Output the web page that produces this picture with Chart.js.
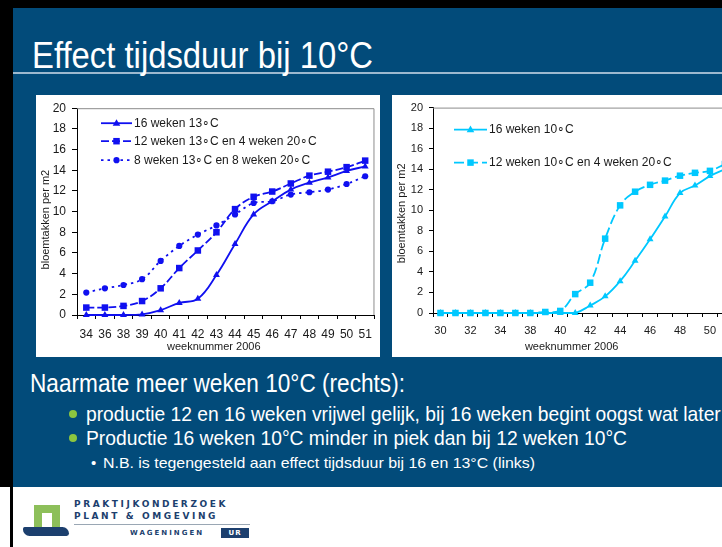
<!DOCTYPE html>
<html lang="nl">
<head>
<meta charset="UTF-8">
<title>Effect tijdsduur bij 10°C</title>
<script src="https://cdn.jsdelivr.net/npm/chart.js"></script>
<style>
  body { margin: 0; width: 722px; height: 547px; overflow: hidden; position: relative; background: #fff;
         font-family: 'Liberation Sans', Arial, sans-serif; }
  .abs { position: absolute; }
  #blackTop { left: 0; top: 0; width: 722px; height: 8px; background: #000; }
  #blackLeft { left: 0; top: 0; width: 13px; height: 487px; background: #000; }
  #blackLine { left: 10px; top: 487px; width: 3px; height: 60px; background: #000; }
  #slide { left: 13px; top: 8px; width: 709px; height: 479px; background: #024b7a; }
  #rule { left: 13px; top: 72px; width: 709px; height: 2px; background: #9db9cf; }
  .txt { color: #fff; white-space: nowrap; line-height: 1; transform-origin: 0 0; }
  #title { left: 32px; top: 38px; font-size: 36px; }
  #head { left: 30px; top: 370px; font-size: 26px; }
  .b1 { left: 86px; font-size: 21px; }
  .dot { width: 8px; height: 8px; border-radius: 50%; background: #8cc63f; }
  #sub { left: 103px; top: 455px; font-size: 15px; }
  .box { background: #fff; }
  canvas { position: absolute; }
  .logo { font-family: 'DejaVu Sans', sans-serif; font-weight: bold; color: #1c3f6e; white-space: nowrap; line-height: 1; }
</style>
</head>
<body>
<div class="abs" id="slide"></div>
<div class="abs" id="blackTop"></div>
<div class="abs" id="blackLeft"></div>
<div class="abs" id="blackLine"></div>
<div class="abs" id="rule"></div>
<div class="abs txt" id="title" data-w="341">Effect tijdsduur bij 10°C</div>

<div class="abs box" style="left:36px; top:95px; width:344px; height:262px;"></div>
<div class="abs box" style="left:392px; top:95px; width:330px; height:262px;"></div>
<canvas id="leftChart" width="344" height="262" style="left:36px; top:95px;"></canvas>
<canvas id="rightChart" width="345" height="262" style="left:392px; top:95px;"></canvas>

<div class="abs txt" id="head" data-w="375">Naarmate meer weken 10°C (rechts):</div>
<div class="abs dot" style="left:69px; top:410px;"></div>
<div class="abs txt b1" id="bul1" style="top:403px;">productie 12 en 16 weken vrijwel gelijk, bij 16 weken begint oogst wat later</div>
<div class="abs dot" style="left:69px; top:434px;"></div>
<div class="abs txt b1" id="bul2" data-w="541" style="top:427px;">Productie 16 weken 10°C minder in piek dan bij 12 weken 10°C</div>
<div class="abs txt" style="left:91px; top:455px; font-size:15px;">•</div>
<div class="abs txt" id="sub" data-w="432">N.B. is tegengesteld aan effect tijdsduur bij 16 en 13°C (links)</div>

<!-- logo -->
<div class="abs" style="left:34px; top:505px; width:26px; height:24px; background:#8dbf5a;"></div>
<div class="abs" style="left:42px; top:513px; width:10px; height:16px; background:#fff;"></div>
<div class="abs" style="left:23px; top:527px; width:46px; height:9px; background:#1c3f6e; border-radius: 2px 8px 3px 8px;"></div>
<div class="abs logo" style="left:74px; top:500px; font-size:9px; letter-spacing:2.6px;">PRAKTIJKONDERZOEK</div>
<div class="abs logo" style="left:74px; top:512px; font-size:9px; letter-spacing:2.6px;">PLANT &amp; OMGEVING</div>
<div class="abs" style="left:74px; top:524px; width:176px; height:1px; background:#9aa7b4;"></div>
<div class="abs logo" style="left:130px; top:530px; font-size:7px; letter-spacing:2px;">WAGENINGEN</div>
<div class="abs logo" style="left:221px; top:528px; width:28px; height:10px; background:#1c3f6e; color:#fff; font-size:7px; letter-spacing:1px; text-align:center; line-height:10px;">UR</div>

<script>
// condensed look of the slide font: squeeze each line to its width in the slide
document.querySelectorAll('.txt[data-w]').forEach(el => {
    const k = el.dataset.w / el.getBoundingClientRect().width;
    el.style.transform = 'scaleX(' + k + ')';
    if (el.id === 'bul2') document.getElementById('bul1').style.transform = 'scaleX(' + k + ')';
});

// ---- data: links (13 graden) ----
const leftWeeks = ['34', '36', '38', '39', '40', '41', '42', '43', '44', '45', '46', '47', '48', '49', '50', '51'];
const left16w13 = [0, 0, 0, 0.06, 0.47, 1.17, 1.57, 3.87, 6.87, 9.73, 11.0, 12.13, 12.8, 13.3, 13.93, 14.37];
const left12w13 = [0.72, 0.72, 0.88, 1.35, 2.58, 4.54, 6.24, 8.0, 10.24, 11.43, 11.94, 12.72, 13.48, 13.86, 14.3, 14.93];
const left8w13 = [2.17, 2.58, 2.9, 3.46, 5.23, 6.68, 7.78, 8.66, 9.73, 10.83, 11.0, 11.65, 11.87, 12.13, 12.67, 13.42];
const leftLabels = ['16 weken 13∘C', '12 weken 13∘C en 4 weken 20∘C', '8 weken 13∘C en 8 weken 20∘C'];

// ---- data: rechts (10 graden) ----
const rightWeeks = ['30', '31', '32', '33', '34', '36', '38', '39', '40', '41', '42', '43', '44', '45', '46', '47', '48', '49', '50', '51'];
const right16w10 = [0, 0, 0, 0, 0, 0, 0, 0, 0, 0, 0.73, 1.62, 3.1, 5.08, 7.17, 9.4, 11.68, 12.41, 13.33, 14.0];
const right12w10 = [0, 0, 0, 0, 0, 0, 0, 0.1, 0.2, 1.84, 2.95, 7.24, 10.48, 11.81, 12.48, 12.89, 13.37, 13.65, 13.84, 14.5];
const rightLabels = ['16 weken 10∘C', '12 weken 10∘C en 4 weken 20∘C'];

const yTicks = { min: 0, max: 20, step: 2 };
const xTitle = 'weeknummer 2006';
const yTitle = 'bloemtakken per m2';

const FONT = "'Liberation Sans', Arial, sans-serif";
const BLUE = '#1010f0';
const CYAN = '#00c8ff';

function marker(ctx, style, r, x, y) {
    ctx.beginPath();
    if (style === 'triangle') {
        ctx.moveTo(x, y - r);
        ctx.lineTo(x + r * 0.95, y + r * 0.65);
        ctx.lineTo(x - r * 0.95, y + r * 0.65);
        ctx.closePath();
    } else if (style === 'rect') {
        const s = r * Math.SQRT1_2;
        ctx.rect(x - s, y - s, 2 * s, 2 * s);
    } else {
        ctx.arc(x, y, r, 0, Math.PI * 2);
    }
    ctx.fill();
}

// plot frame (top/right), legend inside plot, axis titles
const decor = {
    id: 'decor',
    afterDraw(chart, args, opts) {
        const ctx = chart.ctx, a = chart.chartArea;
        ctx.save();
        ctx.strokeStyle = '#8c8c8c';
        ctx.lineWidth = 1;
        ctx.beginPath();
        ctx.moveTo(a.left, a.top + 0.5);
        ctx.lineTo(a.right - 0.5, a.top + 0.5);
        ctx.lineTo(a.right - 0.5, a.bottom);
        ctx.stroke();

        ctx.font = opts.legendSize + 'px ' + FONT;
        ctx.textBaseline = 'middle';
        chart.data.datasets.forEach((ds, i) => {
            const y = a.top + opts.rows[i];
            const x0 = a.left + opts.lineFrom, x1 = a.left + opts.lineTo;
            ctx.strokeStyle = ds.borderColor;
            ctx.lineWidth = ds.borderWidth;
            ctx.setLineDash(ds.borderDash || []);
            ctx.beginPath();
            ctx.moveTo(x0, y);
            ctx.lineTo(x1, y);
            ctx.stroke();
            ctx.setLineDash([]);
            ctx.fillStyle = ds.borderColor;
            marker(ctx, ds.pointStyle, ds.pointRadius, (x0 + x1) / 2, y);
            ctx.fillStyle = '#1a1a1a';
            ctx.fillText(ds.label, x1 + 2, y + 0.5);
        });

        ctx.font = opts.titleSize + 'px ' + FONT;
        ctx.fillStyle = '#1a1a1a';
        ctx.textAlign = 'center';
        ctx.fillText(xTitle, (a.left + a.right) / 2 + opts.xTitleShift, opts.xTitleY);
        ctx.translate(opts.yTitleX, (a.top + a.bottom) / 2 + opts.yTitleShift);
        ctx.rotate(-Math.PI / 2);
        ctx.fillText(yTitle, 0, 0);
        ctx.restore();
    }
};

function makeChart(id, labels, sets, cfg) {
    return new Chart(document.getElementById(id), {
        type: 'line',
        data: { labels: labels, datasets: sets },
        plugins: [decor],
        options: {
            responsive: false,
            animation: false,
            layout: { padding: cfg.padding },
            plugins: { legend: { display: false }, tooltip: { enabled: false }, decor: cfg.decor },
            scales: {
                x: {
                    offset: true,
                    grid: { offset: true, drawOnChartArea: false, color: '#000', tickLength: 4 },
                    border: { color: '#000', width: 1 },
                    ticks: {
                        autoSkip: false, maxRotation: 0, padding: cfg.xPad, color: '#1a1a1a',
                        font: { size: cfg.tickSize, family: FONT },
                        callback: function (v, i) { return (i % cfg.every === 0) ? labels[i] : ''; }
                    },
                    afterFit: s => { s.height = cfg.xHeight; }
                },
                y: {
                    min: yTicks.min, max: yTicks.max,
                    grid: { drawOnChartArea: false, color: '#000', tickLength: cfg.yTickLen },
                    border: { color: '#000', width: 1 },
                    ticks: { stepSize: yTicks.step, padding: 6, color: '#1a1a1a', font: { size: cfg.tickSize, family: FONT } },
                    afterFit: s => { s.width = cfg.yWidth; }
                }
            }
        }
    });
}

function series(label, data, color, style, radius, dash) {
    return {
        label: label, data: data, borderColor: color, backgroundColor: color,
        pointBackgroundColor: color, pointBorderColor: color, pointBorderWidth: 0,
        pointStyle: style, pointRadius: radius, borderWidth: 1.8, borderDash: dash,
        tension: 0.4, fill: false, clip: false
    };
}

makeChart('leftChart', leftWeeks, [
    series(leftLabels[0], left16w13, BLUE, 'triangle', 4, []),
    series(leftLabels[1], left12w13, BLUE, 'rect', 4.6, [8, 3]),
    series(leftLabels[2], left8w13, BLUE, 'circle', 3.1, [2.5, 4])
], {
    padding: { left: 2, top: 8, right: 3, bottom: 3 },
    xHeight: 39, yWidth: 39, yTickLen: 5, xPad: 8, tickSize: 12, every: 1,
    decor: { rows: [15, 33, 52], lineFrom: 24, lineTo: 55, legendSize: 12, titleSize: 11,
             xTitleY: 252, xTitleShift: -12, yTitleX: 10, yTitleShift: 8 }
});

makeChart('rightChart', rightWeeks, [
    series(rightLabels[0], right16w10, CYAN, 'triangle', 4, []),
    series(rightLabels[1], right12w10, CYAN, 'rect', 4.6, [10, 4])
], {
    padding: { left: 0, top: 8, right: 4, bottom: 3 },
    xHeight: 41, yWidth: 41, yTickLen: 4, xPad: 7, tickSize: 11, every: 2,
    decor: { rows: [22, 55], lineFrom: 21, lineTo: 54, legendSize: 12, titleSize: 11,
             xTitleY: 252, xTitleShift: -11, yTitleX: 10, yTitleShift: 3 }
});
</script>
</body>
</html>
